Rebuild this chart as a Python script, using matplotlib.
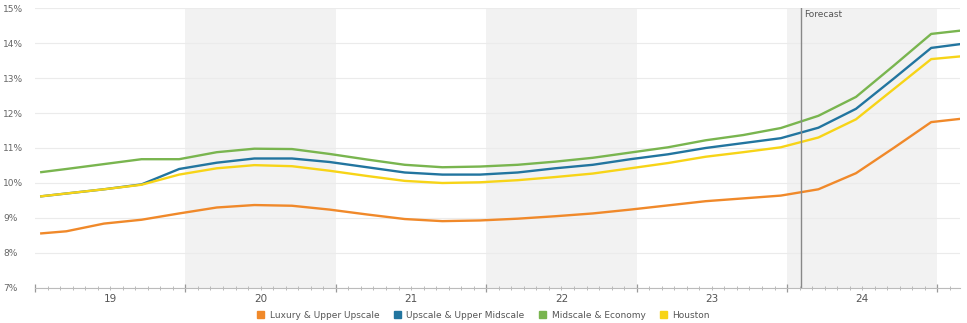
import matplotlib
matplotlib.use("Agg")
import matplotlib.pyplot as plt
import matplotlib.transforms as mtransforms
from matplotlib.patches import Patch
import numpy as np

# ---- data ----
dates = ["2019-01", "2019-03", "2019-06", "2019-09", "2019-12",
         "2020-03", "2020-06", "2020-09", "2020-12",
         "2021-03", "2021-06", "2021-09", "2021-12",
         "2022-03", "2022-06", "2022-09", "2022-12",
         "2023-03", "2023-06", "2023-09", "2023-12",
         "2024-03", "2024-06", "2024-09", "2024-12",
         "2025-03"]

luxury = [8.56, 8.62, 8.84, 8.95, 9.13, 9.30, 9.37, 9.35, 9.24,
          9.10, 8.97, 8.91, 8.93, 8.98, 9.05, 9.13, 9.24,
          9.36, 9.48, 9.56, 9.64, 9.82, 10.28, 11.00, 11.74, 11.86]
upscale = [9.62, 9.70, 9.82, 9.96, 10.40, 10.58, 10.70, 10.70, 10.60,
           10.45, 10.30, 10.24, 10.24, 10.30, 10.42, 10.52, 10.68,
           10.82, 11.00, 11.14, 11.28, 11.58, 12.12, 12.98, 13.86, 14.00]
midscale = [10.31, 10.40, 10.54, 10.68, 10.68, 10.88, 10.98, 10.97, 10.83,
            10.67, 10.52, 10.45, 10.47, 10.52, 10.61, 10.72, 10.87,
            11.02, 11.22, 11.37, 11.57, 11.92, 12.46, 13.35, 14.26, 14.38]
houston = [9.62, 9.70, 9.82, 9.95, 10.24, 10.42, 10.51, 10.48, 10.35,
           10.20, 10.06, 10.00, 10.02, 10.08, 10.17, 10.27, 10.42,
           10.57, 10.75, 10.88, 11.02, 11.30, 11.82, 12.68, 13.54, 13.64]

series_names = ["Luxury & Upper Upscale", "Upscale & Upper Midscale",
                "Midscale & Economy", "Houston"]
series_values = [luxury, upscale, midscale, houston]
colors = ["#F0892A", "#22759F", "#79B54F", "#F7D417"]

years = ["19", "20", "21", "22", "23", "24"]
yticks = [7, 8, 9, 10, 11, 12, 13, 14, 15]
forecast_date = "2024-02"
base_year = 2019


def to_x(d):
    y, m = d.split("-")
    return (int(y) - base_year) * 12 + (int(m) - 1) + 0.5


x = np.array([to_x(d) for d in dates])

fig = plt.figure(figsize=(9.67, 3.23), dpi=100)
ax = fig.add_axes([0.0362, 0.1084, 0.9566, 0.8668])
ax.set_xlim(0, 73.8)
ax.set_ylim(7, 15)

# shaded alternate years
for i in range(len(years)):
    if i % 2 == 1:
        ax.axvspan(i * 12, (i + 1) * 12, color="#f2f2f2", zorder=0, lw=0)

# gridlines
for yv in yticks:
    ax.axhline(yv, color="#ebebeb", lw=0.8, zorder=0.5)

for name, vals, c in zip(series_names, series_values, colors):
    ax.plot(x, vals, color=c, lw=1.7, label=name, zorder=3,
            solid_joinstyle="round")

# forecast line
fx = to_x(forecast_date) - 0.4
ax.axvline(fx, color="#888888", lw=1.0, zorder=4)
ax.text(fx + 0.25, 14.93, "Forecast", fontsize=6.5, color="#555555",
        va="top", ha="left")

# axes styling
for s in ["top", "right", "left"]:
    ax.spines[s].set_visible(False)
ax.spines["bottom"].set_color("#bbbbbb")
ax.spines["bottom"].set_linewidth(0.8)

ax.set_xticks(np.arange(0, 73, 12))
ax.set_xticks(np.arange(0, 74, 1), minor=True)
ax.tick_params(axis="x", which="major", length=6, direction="inout",
               color="#999999", width=0.9, labelbottom=False)
ax.tick_params(axis="x", which="minor", length=3, direction="inout",
               color="#bbbbbb", width=0.7)

ax.set_yticks(yticks)
ax.set_yticklabels([f"{v}%" for v in yticks])
ax.tick_params(axis="y", length=0, labelsize=6.5, labelcolor="#666666", pad=23)
for lbl in ax.get_yticklabels():
    lbl.set_horizontalalignment("left")

trans = mtransforms.blended_transform_factory(ax.transData, ax.transAxes)
for i, yl in enumerate(years):
    ax.text(i * 12 + 6, -0.022, yl, transform=trans, ha="center", va="top",
            fontsize=7.5, color="#555555")

handles = [Patch(facecolor=c, edgecolor=c) for c in colors]
fig.legend(handles, series_names, loc="lower center",
           bbox_to_anchor=(0.5, -0.015), ncol=4, frameon=False,
           fontsize=6.5, handlelength=0.8, handleheight=0.8,
           columnspacing=1.6, handletextpad=0.6, labelcolor="#555555")

fig.savefig("out.png", dpi=100)
